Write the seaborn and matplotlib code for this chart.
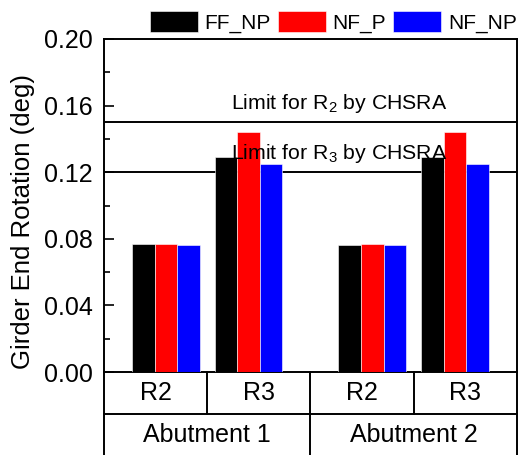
import matplotlib
matplotlib.use("Agg")
import matplotlib.pyplot as plt
import seaborn as sns
import pandas as pd

# Girder end rotation per case and model
series = ["FF_NP", "NF_P", "NF_NP"]
colors = ["#000000", "#ff0000", "#0000ff"]
cases = ["R2", "R3", "R2", "R3"]
abutments = ["Abutment 1", "Abutment 2"]
positions = [1.0, 2.0, 3.5, 4.5]
ff_np = [0.077, 0.129, 0.076, 0.129]
nf_p = [0.077, 0.144, 0.077, 0.144]
nf_np = [0.076, 0.125, 0.076, 0.125]
limit_values = [0.15, 0.12]
limit_labels = [r"Limit for R$_2$ by CHSRA", r"Limit for R$_3$ by CHSRA"]
yticks = [0.00, 0.04, 0.08, 0.12, 0.16, 0.20]

rows = []
for name, vals in zip(series, [ff_np, nf_p, nf_np]):
    for pos, v in zip(positions, vals):
        rows.append({"pos": pos, "series": name, "value": v})
df = pd.DataFrame(rows)

sns.set_theme(style="ticks")
plt.rcParams["font.family"] = ["Liberation Sans", "DejaVu Sans"]
plt.rcParams["mathtext.default"] = "regular"
plt.rcParams["text.color"] = "black"
plt.rcParams["ytick.color"] = "black"
plt.rcParams["ytick.labelcolor"] = "black"

fig = plt.figure(figsize=(5.21, 4.55), dpi=100)
ax = fig.add_axes([0.1996, 0.1824, 0.7924, 0.7319])

sns.barplot(data=df, x="pos", y="value", hue="series", hue_order=series,
            palette=colors, native_scale=True, width=0.82, errorbar=None,
            edgecolor="white", linewidth=0.4, saturation=1, ax=ax, zorder=3)

ax.set_xlim(0.25, 5.25)
ax.set_ylim(0.0, 0.20)
ax.set_yticks(yticks)
ax.set_yticklabels([f"{t:.2f}" for t in yticks])
ax.yaxis.set_minor_locator(matplotlib.ticker.MultipleLocator(0.02))
ax.tick_params(axis="y", which="major", direction="in", length=7, width=1.2,
               labelsize=18, pad=8, colors="black")
ax.tick_params(axis="y", which="minor", direction="in", length=4, width=1.2,
               colors="black")
ax.tick_params(axis="x", which="both", bottom=False, labelbottom=False)
ax.set_xlabel("")
ax.set_ylabel("")
for sp in ax.spines.values():
    sp.set_visible(True)
    sp.set_linewidth(1.4)
    sp.set_color("black")

# Code limits
for val, lab in zip(limit_values, limit_labels):
    ax.axhline(val, color="black", linewidth=1.4, zorder=2)
    ax.text(0.57, val + 0.0045, lab, transform=ax.get_yaxis_transform(),
            ha="center", va="bottom", fontsize=15.3, color="black", zorder=5)

ax.text(-0.196, 0.452, "Girder End Rotation (deg)", transform=ax.transAxes,
        rotation=90, ha="center", va="center", fontsize=18.5, color="black")

# Category table beneath the axis
lk = dict(color="black", linewidth=1.4, transform=ax.transAxes, clip_on=False)
row1, row2 = -0.126, -0.26
ax.plot([0, 1], [row1, row1], **lk)
for x in [0.0, 0.5, 1.0]:
    ax.plot([x, x], [0, row2], **lk)
for x in [0.25, 0.75]:
    ax.plot([x, x], [0, row1], **lk)
for i, c in enumerate(cases):
    ax.text(0.125 + 0.25 * i, -0.063, c, transform=ax.transAxes,
            ha="center", va="center", fontsize=18, color="black")
for i, a in enumerate(abutments):
    ax.text(0.25 + 0.5 * i, -0.189, a, transform=ax.transAxes,
            ha="center", va="center", fontsize=18, color="black")

handles, labels = ax.get_legend_handles_labels()
leg = ax.legend(handles, labels, loc="center right", bbox_to_anchor=(1.0, 1.052),
                ncol=3, frameon=False, fontsize=15, handlelength=2.3,
                handleheight=1.2, handletextpad=0.33, columnspacing=0.33,
                borderpad=0, borderaxespad=0)
for t in leg.get_texts():
    t.set_color("black")

fig.savefig("out.png", dpi=100)
